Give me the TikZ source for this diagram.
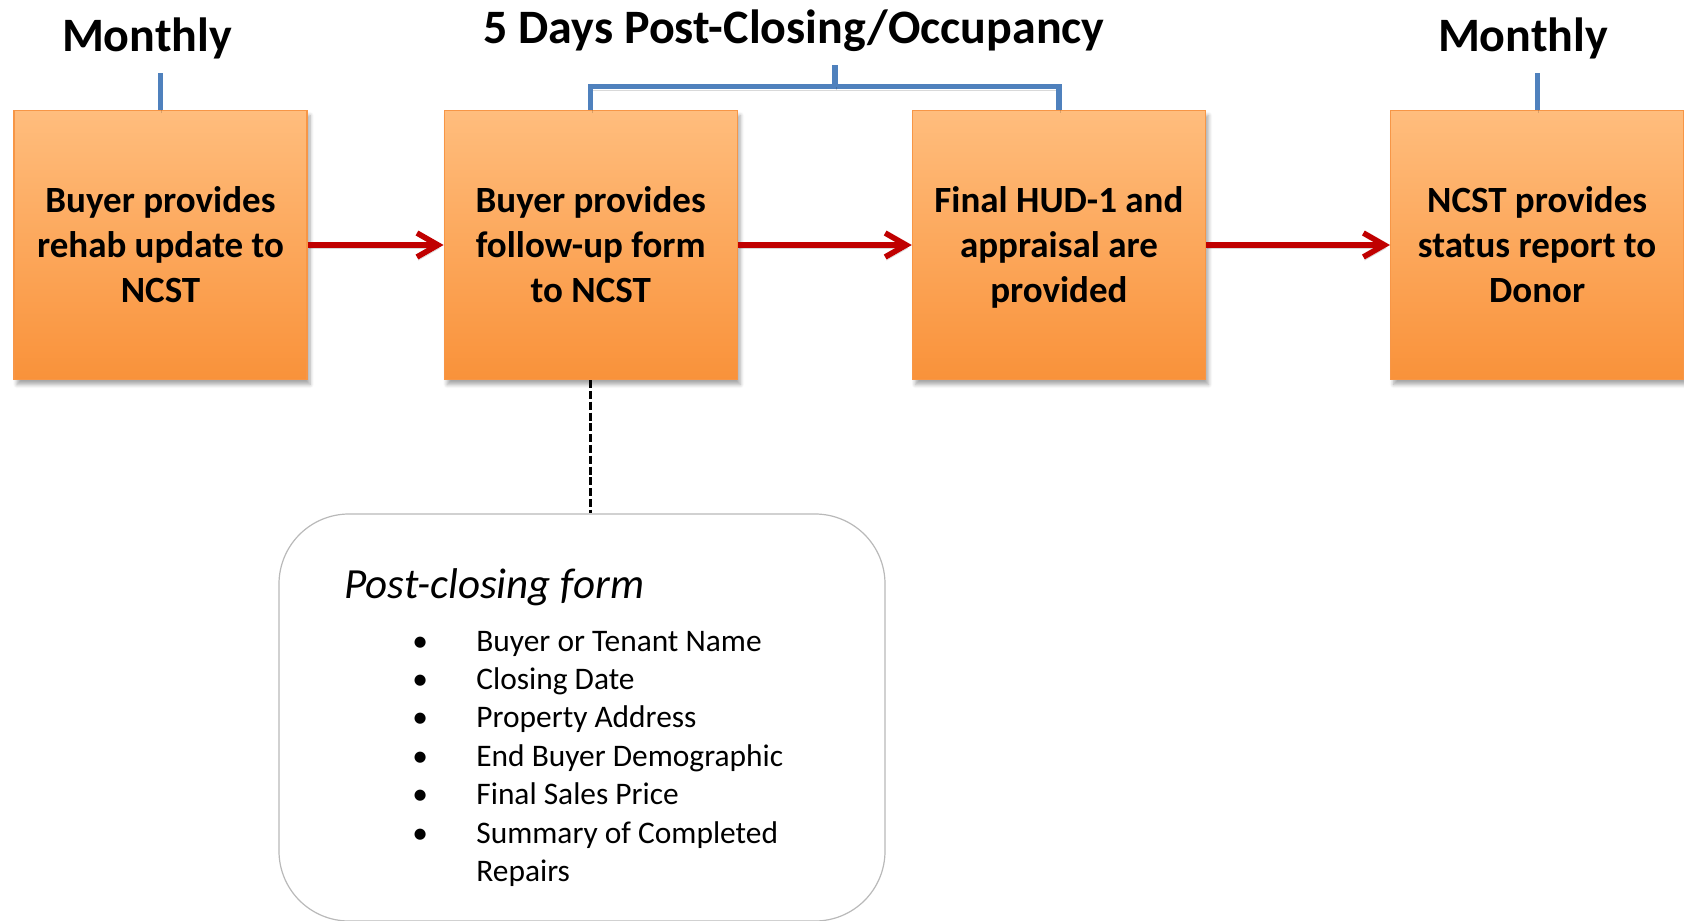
\documentclass[tikz,border=0pt]{standalone}
\usepackage{fontspec}
\setmainfont{Carlito}
\usetikzlibrary{
  arrows.meta,
  positioning,
  shadows.blur
}
\definecolor{boxtop}{HTML}{FFBD7D}
\definecolor{boxbottom}{HTML}{F9923A}
\definecolor{boxedge}{HTML}{F79646}
\definecolor{linkblue}{HTML}{4F81BD}
\definecolor{arrowred}{HTML}{C00000}

\begin{document}
\begin{tikzpicture}[
  x=0.5pt, y=-0.5pt,
  node distance=68pt,
  stepbox/.style={rectangle, draw=boxedge, line width=0.6pt, top color=boxtop, bottom color=boxbottom,
    minimum width=146.5pt, minimum height=134.5pt, inner sep=0pt, align=center, text depth=0pt,
    font=\fontsize{18.5pt}{22.5pt}\selectfont\bfseries,
    blur shadow={shadow xshift=1.5pt, shadow yshift=-2.5pt, shadow blur steps=6, shadow opacity=35}},
  heading/.style={font=\fontsize{24pt}{28pt}\selectfont\bfseries, inner sep=0pt},
  soft/.style={preaction={draw=black, opacity=0.15, transform canvas={xshift=0.6pt, yshift=-1.6pt}}},
  flow/.style={-{Straight Barb[length=10.5pt,width=12pt]}, draw=arrowred, line width=2.8pt, soft},
  brace/.style={draw=linkblue, line width=2.6pt, soft},
  note/.style={draw=gray!55, rounded corners=35pt, minimum width=303pt, minimum height=203.5pt,
    line width=0.6pt, inner sep=0pt}
]
  \useasboundingbox (0,0) rectangle (1684,920);

  % Steps
  \node[stepbox] (rehab) at (160.5,245) {Buyer provides\\rehab update to\\NCST};
  \node[stepbox, right=68pt of rehab] (followup) {Buyer provides\\follow-up form\\to NCST};
  \node[stepbox, right=87pt of followup] (hud) {Final HUD-1 and\\appraisal are\\provided};
  \node[stepbox, right=92pt of hud] (report) {NCST provides\\status report to\\Donor};

  % Timing labels
  \node[heading, anchor=base] (monthlyA) at (147,52) {Monthly};
  \node[heading, anchor=base] (monthlyB) at (1523,52) {Monthly};
  \node[heading, anchor=base] (postdays) at (794,44) {5 Days Post-Closing/Occupancy};

  \draw[brace] (rehab.north) -- ++(0,-37);
  \draw[brace] (report.north) -- ++(0,-37);
  \draw[brace] (followup.north) -- ++(0,-23) -| (hud.north);
  \coordinate (span) at (835,87);
  \draw[brace] (span) -- ++(0,-22);

  % Flow
  \draw[flow] (rehab) -- (followup);
  \draw[flow] (followup) -- (hud);
  \draw[flow] (hud) -- (report);

  % Post-closing form
  \node[note] (form) at (582,717.5) {};
  \draw[line width=1.3pt, dash pattern=on 4pt off 1.4pt] (followup.south) -- (followup.south |- form.north);

  \node[anchor=base west, inner sep=0pt, font=\fontsize{21.5pt}{25pt}\selectfont\itshape] (formtitle)
    at (344,598) {Post-closing form};
  \node[anchor=base west, inner sep=0pt, font=\fontsize{15.7pt}{19.2pt}\selectfont] (fields) at (412,651) {%
    \begin{tabular}[t]{@{}p{32pt}@{}l@{}}
      \textbullet & Buyer or Tenant Name\\
      \textbullet & Closing Date\\
      \textbullet & Property Address\\
      \textbullet & End Buyer Demographic\\
      \textbullet & Final Sales Price\\
      \textbullet & Summary of Completed\\
                  & Repairs
    \end{tabular}};

\end{tikzpicture}
\end{document}
